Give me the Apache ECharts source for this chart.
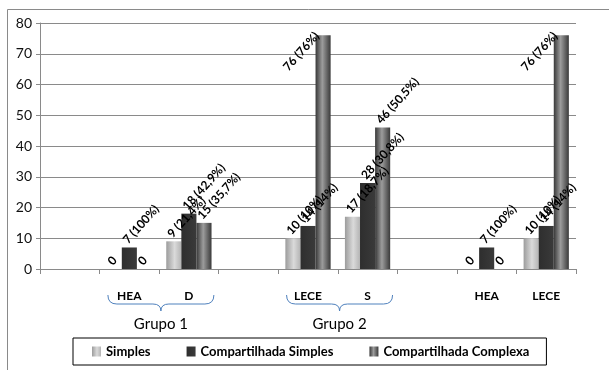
<!DOCTYPE html>
<html>
<head>
<meta charset="utf-8">
<script src="https://cdn.jsdelivr.net/npm/echarts@6/dist/echarts.min.js"></script>
<style>
html,body{margin:0;padding:0;background:#fff;}
#c{width:609px;height:370px;}
</style>
</head>
<body>
<div id="c"></div>
<script>
var categories = ['', 'HEA', 'D', '', 'LECE', 'S', '', 'HEA', 'LECE'];
var seriesNames = ['Simples', 'Compartilhada Simples', 'Compartilhada Complexa'];
var simples = [null, 0, 9, null, 10, 17, null, 0, 10];
var simplesPct = [null, null, '21,4%', null, '10%', '18,7%', null, null, '10%'];
var compSimples = [null, 7, 18, null, 14, 28, null, 7, 14];
var compSimplesPct = [null, '100%', '42,9%', null, '14%', '30,8%', null, '100%', '14%'];
var compComplexa = [null, 0, 15, null, 76, 46, null, 0, 76];
var compComplexaPct = [null, null, '35,7%', null, '76%', '50,5%', null, null, '76%'];
var groups = [
  { name: 'Grupo 1', from: 1, to: 2 },
  { name: 'Grupo 2', from: 4, to: 5 }
];
var yTicks = { min: 0, max: 80, interval: 10 };

var FONT = 'Lato, "Open Sans", sans-serif';
var ROT = 48;

function grad(stops) {
  return new echarts.graphic.LinearGradient(0, 0, 1, 0, stops.map(function (s) {
    return { offset: s[0], color: s[1] };
  }));
}
var colors = [
  grad([[0, '#9c9c9c'], [0.55, '#dadada'], [1, '#b4b4b4']]),
  grad([[0, '#2e2e2e'], [1, '#3a3a3a']]),
  grad([[0, '#383838'], [0.45, '#9c9c9c'], [1, '#3a3a3a']])
];

function mkLabel(pcts) {
  return {
    show: true,
    position: 'top',
    distance: 10,
    rotate: ROT,
    align: 'left',
    verticalAlign: 'middle',
    offset: [-6, 0],
    fontFamily: FONT,
    fontWeight: 'bold',
    fontSize: 12,
    color: '#000',
    formatter: function (p) {
      if (p.value === 0) return '0';
      return p.value + ' (' + pcts[p.dataIndex] + ')';
    }
  };
}

// labels of bars that reach near the top of the plot are flipped to the left side
function mkData(values) {
  return values.map(function (v) {
    if (v !== null && v > 70) {
      return { value: v, label: { align: 'right', offset: [-9, 0], distance: 8 } };
    }
    return v;
  });
}

var datasets = [[simples, simplesPct], [compSimples, compSimplesPct], [compComplexa, compComplexaPct]];

var chart = echarts.init(document.getElementById('c'), null, { renderer: 'canvas' });
var option = {
  animation: false,
  backgroundColor: '#fff',
  grid: { left: 40, right: 33, top: 23, bottom: 101 },
  legend: {
    data: seriesNames,
    left: 73, top: 338,
    padding: [7, 17, 7, 19],
    itemGap: 36,
    itemWidth: 9, itemHeight: 10,
    icon: 'rect',
    borderColor: '#000', borderWidth: 1,
    textStyle: { fontFamily: FONT, fontWeight: 'bold', fontSize: 13, color: '#000' }
  },
  xAxis: {
    type: 'category',
    data: categories,
    axisLine: { lineStyle: { color: '#8a8a8a' } },
    axisTick: { show: true, length: 5, interval: 0, lineStyle: { color: '#8a8a8a' } },
    axisLabel: { interval: 0, margin: 21, fontFamily: FONT, fontWeight: 'bold', fontSize: 12, color: '#000' }
  },
  yAxis: {
    type: 'value',
    min: yTicks.min, max: yTicks.max, interval: yTicks.interval,
    axisLine: { show: true, lineStyle: { color: '#8a8a8a' } },
    axisTick: { show: true, length: 4, lineStyle: { color: '#8a8a8a' } },
    splitLine: { lineStyle: { color: '#8a8a8a' } },
    axisLabel: { margin: 8, fontFamily: FONT, fontSize: 14, color: '#111' }
  },
  series: seriesNames.map(function (n, i) {
    return {
      name: n,
      type: 'bar',
      data: mkData(datasets[i][0]),
      itemStyle: { color: colors[i] },
      barGap: '0%',
      barCategoryGap: '24%',
      label: mkLabel(datasets[i][1])
    };
  })
};
chart.setOption(option);

// decorations: frame, group braces and group labels
var g = [];
g.push({
  type: 'rect', left: 5, top: 7, silent: true,
  shape: { x: 0, y: 0, width: 700, height: 500 },
  style: { fill: 'none', stroke: '#8a8a8a', lineWidth: 1 }, z: 0
});
var yBase = chart.convertToPixel({ yAxisIndex: 0 }, 0);
var braceStyle = { fill: 'none', stroke: '#4f81bd', lineWidth: 1 };
function curve(x1, y1, cx, cy, x2, y2) {
  g.push({ type: 'bezierCurve', silent: true,
    shape: { x1: x1, y1: y1, x2: x2, y2: y2, cpx1: cx, cpy1: cy },
    style: braceStyle });
}
function seg(x1, y1, x2, y2) {
  g.push({ type: 'line', silent: true,
    shape: { x1: x1, y1: y1, x2: x2, y2: y2 }, style: braceStyle });
}
groups.forEach(function (gr) {
  var c1 = chart.convertToPixel({ xAxisIndex: 0 }, gr.from);
  var c2 = chart.convertToPixel({ xAxisIndex: 0 }, gr.to);
  var bw = c2 - c1;
  var x0 = c1 - 0.36 * bw, x1 = c2 + 0.42 * bw, xm = (x0 + x1) / 2;
  var yt = yBase + 26, yh = yBase + 35, yp = yBase + 42;
  curve(x0, yt, x0, yh, x0 + 9, yh);
  seg(x0 + 9, yh, xm - 8, yh);
  curve(xm - 8, yh, xm, yh, xm, yp);
  curve(xm, yp, xm, yh, xm + 8, yh);
  seg(xm + 8, yh, x1 - 9, yh);
  curve(x1 - 9, yh, x1, yh, x1, yt);
  g.push({
    type: 'text', silent: true,
    x: xm, y: yBase + 55,
    style: { text: gr.name, fontFamily: FONT, fontSize: 15, fill: '#000', align: 'center', verticalAlign: 'middle' }
  });
});
chart.setOption({ graphic: g });
</script>
</body>
</html>
